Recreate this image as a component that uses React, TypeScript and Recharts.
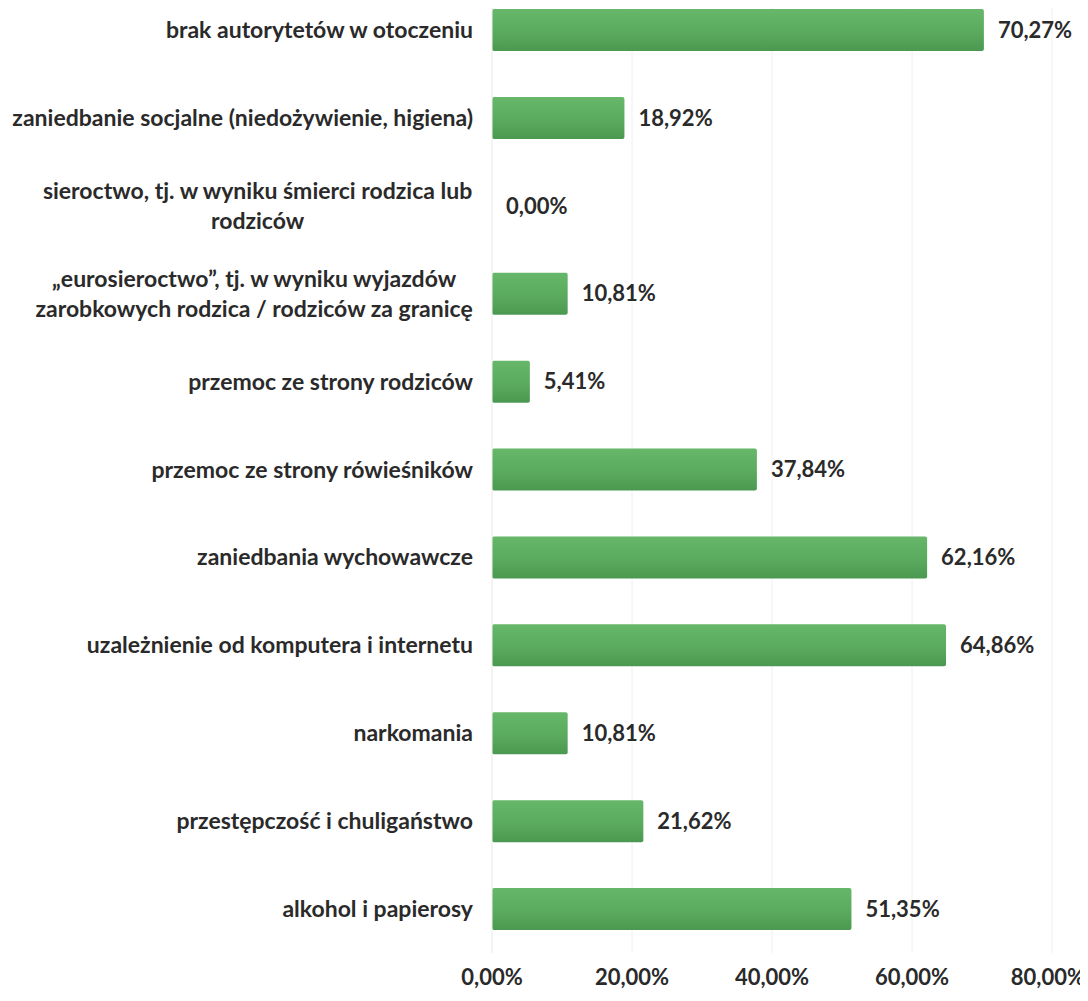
import { BarChart, Bar, XAxis, YAxis, CartesianGrid, LabelList } from 'recharts';

const categories = [
  'brak autorytetów w otoczeniu',
  'zaniedbanie socjalne (niedożywienie, higiena)',
  'sieroctwo, tj. w wyniku śmierci rodzica lub\nrodziców',
  '„eurosieroctwo”, tj. w wyniku wyjazdów\nzarobkowych rodzica / rodziców za granicę',
  'przemoc ze strony rodziców',
  'przemoc ze strony rówieśników',
  'zaniedbania wychowawcze',
  'uzależnienie od komputera i internetu',
  'narkomania',
  'przestępczość i chuligaństwo',
  'alkohol i papierosy',
];
const values = [70.27, 18.92, 0, 10.81, 5.41, 37.84, 62.16, 64.86, 10.81, 21.62, 51.35];
const xTicks = [0, 20, 40, 60, 80];

const data = categories.map((name, i) => ({ name, value: values[i] }));

const FONT = 'Lato, "Open Sans", sans-serif';
const TEXT = '#2a2a2a';
const CAT_SIZE = 23;
const NUM_SIZE = 22;
const pct = (v: number) => `${v.toFixed(2).replace('.', ',')}%`;

let ctx: CanvasRenderingContext2D | null = null;
function measure(s: string, size = CAT_SIZE) {
  if (!ctx) {
    ctx = document.createElement('canvas').getContext('2d');
  }
  if (!ctx) return s.length * 11;
  ctx.font = `700 ${size}px Lato`;
  return ctx.measureText(s).width;
}

function CategoryTick(props: any) {
  const { x, y, payload } = props;
  const lines: string[] = String(payload.value).split('\n');
  const lineH = 30;
  const widest = Math.max(...lines.map((l) => measure(l)));
  const cx = lines.length > 1 ? x - widest / 2 : x;
  const top = y - ((lines.length - 1) * lineH) / 2;
  return (
    <text
      textAnchor={lines.length > 1 ? 'middle' : 'end'}
      fill={TEXT}
      fontFamily={FONT}
      fontWeight={700}
      fontSize={CAT_SIZE}
    >
      {lines.map((l, i) => (
        <tspan key={i} x={cx} y={top + i * lineH} dy="0.35em">
          {l}
        </tspan>
      ))}
    </text>
  );
}

// keeps the last tick label inside the picture, as in the original
function PercentTick(props: any) {
  const { x, y, payload } = props;
  const label = pct(Number(payload.value));
  const half = measure(label, NUM_SIZE) / 2;
  const cx = Math.min(Number(x), 1085 - half);
  return (
    <text
      x={cx}
      y={y}
      dy="0.71em"
      textAnchor="middle"
      fill={TEXT}
      fontFamily={FONT}
      fontWeight={700}
      fontSize={NUM_SIZE}
    >
      {label}
    </text>
  );
}

function ValueLabel(props: any) {
  const { x, y, width, height, value } = props;
  return (
    <text
      x={Number(x) + Number(width || 0) + 14}
      y={Number(y) + Number(height) / 2}
      dy="0.35em"
      fill={TEXT}
      fontFamily={FONT}
      fontWeight={700}
      fontSize={NUM_SIZE}
    >
      {pct(Number(value))}
    </text>
  );
}

export default function App() {
  return (
    <div
      style={{
        margin: -8,
        width: 1088,
        height: 1001,
        overflow: 'hidden',
        position: 'relative',
        background: '#fff',
      }}
    >
      <div style={{ position: 'absolute', top: -14, left: 0 }}>
        <BarChart
          width={1088}
          height={1015}
          data={data}
          layout="vertical"
          margin={{ top: 0, right: 36, bottom: 0, left: 0 }}
        >
          <defs>
            <linearGradient id="barGreen" x1="0" y1="0" x2="0" y2="1">
              <stop offset="0%" stopColor="#66b76a" />
              <stop offset="55%" stopColor="#5bab5f" />
              <stop offset="100%" stopColor="#4b9850" />
            </linearGradient>
          </defs>
          <CartesianGrid horizontal={false} stroke="#f0f0f0" />
          <XAxis
            type="number"
            domain={[0, 80]}
            ticks={xTicks}
            axisLine={false}
            tickLine={false}
            tickMargin={10}
            height={48}
            tick={<PercentTick />}
          />
          <YAxis
            type="category"
            dataKey="name"
            width={492}
            axisLine={{ stroke: '#f0f0f0' }}
            tickLine={false}
            tickMargin={13}
            interval={0}
            tick={<CategoryTick />}
          />
          <Bar
            dataKey="value"
            fill="url(#barGreen)"
            barSize={42}
            radius={2}
            minPointSize={(v: number) => (v === 0 ? 0.01 : 0)}
            isAnimationActive={false}
          >
            <LabelList dataKey="value" content={<ValueLabel />} />
          </Bar>
        </BarChart>
      </div>
    </div>
  );
}
